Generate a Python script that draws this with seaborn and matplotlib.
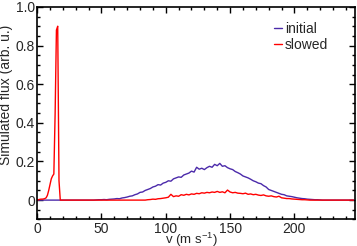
import matplotlib
matplotlib.use("Agg")
import matplotlib.pyplot as plt
from matplotlib.ticker import MultipleLocator, FuncFormatter
import numpy as np
import pandas as pd
import seaborn as sns

# velocity grid: fine steps near the slowed peak, coarser afterwards (m/s)
v_low = np.arange(0, 25, 1)
v_high = np.arange(26, 248, 2)

# slowed beam, low-velocity part (v = 0..24)
slowed_low = [0.0, 0.002, 0.004, 0.005, 0.005, 0.006, 0.008, 0.012, 0.025, 0.05,
              0.08, 0.11, 0.125, 0.135, 0.45, 0.88, 0.90, 0.10, 0.0, 0.0,
              0.0, 0.0, 0.0, 0.0, 0.0]
initial_low = [0.0] * 25

# initial beam, v = 26..246 step 2
initial_high = [0.0] * 10 + [
    0.001, 0.002, 0.002, 0.003, 0.002, 0.004, 0.005, 0.006, 0.008, 0.007,
    0.011, 0.013, 0.016, 0.020, 0.022, 0.028, 0.032, 0.040, 0.042, 0.050,
    0.055, 0.060, 0.068, 0.072, 0.080, 0.078, 0.088, 0.092, 0.100, 0.098,
    0.110, 0.115, 0.120, 0.118, 0.130, 0.135, 0.140, 0.150, 0.145, 0.170,
    0.160, 0.165, 0.158, 0.168, 0.175, 0.170, 0.185, 0.178, 0.190, 0.175,
    0.178, 0.168, 0.162, 0.158, 0.148, 0.142, 0.135, 0.125, 0.120, 0.115,
    0.108, 0.100, 0.095, 0.088, 0.085, 0.075, 0.068, 0.055, 0.050, 0.045,
    0.040, 0.035, 0.030, 0.028, 0.022, 0.020, 0.018, 0.015, 0.012, 0.010,
    0.008, 0.007, 0.005, 0.004, 0.003, 0.002, 0.002, 0.001] + [0.0] * 13

# slowed beam, v = 26..246 step 2
slowed_high = [0.0] * 30 + [
    0.002, 0.003, 0.005, 0.004, 0.007, 0.008, 0.010, 0.012, 0.015, 0.030,
    0.018, 0.022, 0.020, 0.028, 0.025, 0.030, 0.027, 0.032, 0.030, 0.035,
    0.033, 0.038, 0.036, 0.040, 0.038, 0.042, 0.040, 0.045, 0.040, 0.043,
    0.038, 0.052, 0.042, 0.038, 0.040, 0.036, 0.035, 0.033, 0.036, 0.030,
    0.032, 0.028, 0.030, 0.026, 0.024, 0.027, 0.022, 0.020, 0.022, 0.018,
    0.016, 0.020, 0.012, 0.010, 0.008, 0.008, 0.006, 0.005, 0.004, 0.003,
    0.002, 0.002, 0.001] + [0.0] * 18

series_names = ["initial", "slowed"]
colors = ["#4b2aaa", "#ff0000"]

v = np.concatenate([v_low, v_high])
df = pd.concat([
    pd.DataFrame({"v": v, "flux": initial_low + initial_high, "beam": "initial"}),
    pd.DataFrame({"v": v, "flux": slowed_low + slowed_high, "beam": "slowed"}),
])

sns.set_style("ticks")
plt.rcParams["font.family"] = ["Liberation Sans", "DejaVu Sans"]
plt.rcParams["font.size"] = 10
plt.rcParams["mathtext.default"] = "regular"

fig = plt.figure(figsize=(3.57, 2.46), dpi=100)
ax = fig.add_axes([0.104, 0.108, 0.890, 0.864])

sns.lineplot(data=df, x="v", y="flux", hue="beam", hue_order=series_names,
             palette=colors, linewidth=1.0, ax=ax, estimator=None, sort=False)

ax.set_xlim(0, 247)
ax.set_ylim(-0.1, 1.0)
ax.xaxis.set_major_locator(MultipleLocator(50))
ax.xaxis.set_minor_locator(MultipleLocator(10))
ax.yaxis.set_major_locator(MultipleLocator(0.2))
ax.yaxis.set_minor_locator(MultipleLocator(0.05))
ax.yaxis.set_major_formatter(FuncFormatter(lambda y, _: "0" if abs(y) < 1e-9 else f"{y:.1f}"))

ax.tick_params(which="both", direction="in", top=True, right=True,
               labelsize=10, color="black", width=1.0)
ax.tick_params(which="major", length=4, pad=1.5)
ax.tick_params(which="minor", length=2.5)
for s in ax.spines.values():
    s.set_linewidth(1.2)
    s.set_color("black")

ax.set_xlabel("v (m s$^{-1}$)", fontsize=9.5)
ax.set_ylabel("Simulated flux (arb. u.)", fontsize=10)
ax.xaxis.label.set_va("bottom")
ax.xaxis.set_label_coords(0.485, -0.137)
ax.yaxis.set_label_coords(-0.075, 0.586)

ax.legend(loc="upper right", frameon=False, fontsize=10, handlelength=0.6,
          handletextpad=0.2, labelspacing=0.15, borderaxespad=0.6,
          bbox_to_anchor=(0.96, 0.995))

fig.savefig("out.png", dpi=100)
